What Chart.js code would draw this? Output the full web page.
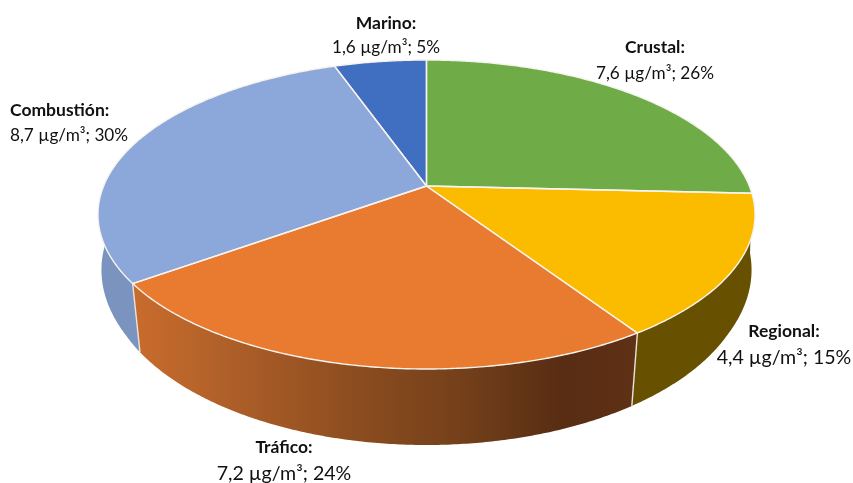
<!DOCTYPE html>
<html lang="es">
<head>
<meta charset="utf-8">
<style>
html,body{margin:0;padding:0;background:#fff}
#wrap{position:relative;width:853px;height:483px}
canvas{display:block}
</style>
<script src="https://cdn.jsdelivr.net/npm/chart.js@4"></script>
</head>
<body>
<div id="wrap"><canvas id="c" width="853" height="483"></canvas></div>
<script>
const categories = ['Crustal', 'Regional', 'Tráfico', 'Combustión', 'Marino'];
const concentrations = [7.6, 4.4, 7.2, 8.7, 1.6];
const shareLabels = ['26%', '15%', '24%', '30%', '5%'];
const topColors = ['#6FAC47', '#FBBC00', '#E97B30', '#8CA7D9', '#406FC1'];

// Geometry of the tilted disc
const TOP = {cx: 426.5, cy: 214.5, rx: 328.5, ry: 154.5, a: -0.1845};
const BOTTOM = {cx: 426.5, cy: 276, rx: 327, ry: 169, a: -0.18, narrow: 6};

const LABELS = [
  {x: 655, y1: 47, y2: 73, bold: 17.5, reg: 17.2},
  {x: 784, y1: 331, y2: 358, bold: 17.5, reg: 19.6},
  {x: 284, y1: 447, y2: 474, bold: 17.5, reg: 19.6},
  {x1: 10, x2: 10, y1: 110, y2: 135, bold: 17.5, reg: 17.2, left: true},
  {x: 386, y1: 23, y2: 47, bold: 17.5, reg: 17.2}
];

function project(e, alpha) {
  const X = Math.cos(alpha), Y = Math.sin(alpha);
  const d = 1 + e.a * Y;
  const rx = e.rx - (e.narrow || 0) * Math.min(1, Math.abs(Y) / 0.5);
  return [e.cx + rx * X * Math.sqrt(1 - e.a * e.a) / d, e.cy + e.ry * (Y + e.a) / d];
}
function arcPoints(e, a0, a1) {
  const n = Math.max(2, Math.ceil(Math.abs(a1 - a0) * 120));
  const pts = [];
  for (let i = 0; i <= n; i++) pts.push(project(e, a0 + (a1 - a0) * i / n));
  return pts;
}
function sideFill(ctx, i) {
  if (i === 1) return '#675000';
  if (i === 3) return '#7A93BF';
  if (i === 2) {
    const g = ctx.createLinearGradient(133, 0, 637, 0);
    g.addColorStop(0, '#C96C2C');
    g.addColorStop(0.15, '#B4622A');
    g.addColorStop(0.45, '#8B4C1F');
    g.addColorStop(0.65, '#74401A');
    g.addColorStop(0.85, '#582D13');
    g.addColorStop(1, '#5F3116');
    return g;
  }
  return null;
}

const disc3d = {
  id: 'disc3d',
  beforeDatasetsDraw(chart) {
    const ctx = chart.ctx;
    const arcs = chart.getDatasetMeta(0).data;
    ctx.save();
    // side walls
    arcs.forEach((arc, i) => {
      const fill = sideFill(ctx, i);
      if (!fill) return;
      const t = arcPoints(TOP, arc.startAngle, arc.endAngle);
      const b = arcPoints(BOTTOM, arc.endAngle, arc.startAngle);
      ctx.beginPath();
      t.concat(b).forEach((p, k) => k ? ctx.lineTo(p[0], p[1]) : ctx.moveTo(p[0], p[1]));
      ctx.closePath();
      ctx.fillStyle = fill;
      ctx.fill();
    });
    // wall separators
    ctx.strokeStyle = '#E9E3DC';
    ctx.lineWidth = 1.4;
    arcs.forEach((arc, i) => {
      if (i !== 1 && i !== 2) return;
      const p = project(TOP, arc.endAngle), q = project(BOTTOM, arc.endAngle);
      ctx.beginPath(); ctx.moveTo(p[0], p[1]); ctx.lineTo(q[0], q[1]); ctx.stroke();
    });
    // top face
    const apex = [TOP.cx, TOP.cy + TOP.ry * TOP.a];
    arcs.forEach(arc => {
      ctx.beginPath();
      ctx.moveTo(apex[0], apex[1]);
      arcPoints(TOP, arc.startAngle, arc.endAngle).forEach(p => ctx.lineTo(p[0], p[1]));
      ctx.closePath();
      ctx.fillStyle = arc.options.backgroundColor;
      ctx.fill();
    });
    ctx.strokeStyle = '#F7F3EE';
    ctx.lineWidth = 1.4;
    ctx.lineJoin = 'round';
    arcs.forEach(arc => {
      ctx.beginPath();
      ctx.moveTo(apex[0], apex[1]);
      arcPoints(TOP, arc.startAngle, arc.endAngle).forEach(p => ctx.lineTo(p[0], p[1]));
      ctx.closePath();
      ctx.stroke();
    });
    // labels
    ctx.textBaseline = 'middle';
    ctx.fillStyle = '#111';
    categories.forEach((name, i) => {
      const L = LABELS[i];
      ctx.textAlign = L.left ? 'left' : 'center';
      ctx.font = 'bold ' + L.bold + 'px Lato';
      ctx.fillText(name + ':', L.left ? L.x1 : L.x, L.y1);
      ctx.font = L.reg + 'px Lato';
      const value = concentrations[i].toFixed(1).replace('.', ',');
      ctx.fillText(value + ' µg/m³; ' + shareLabels[i], L.left ? L.x2 : L.x, L.y2);
    });
    ctx.restore();
    return false;
  }
};

new Chart(document.getElementById('c'), {
  type: 'pie',
  data: {
    labels: categories,
    datasets: [{data: concentrations, backgroundColor: topColors, borderWidth: 0}]
  },
  options: {
    responsive: false,
    animation: false,
    plugins: {legend: {display: false}, tooltip: {enabled: false}},
    events: []
  },
  plugins: [disc3d]
});
</script>
</body>
</html>
